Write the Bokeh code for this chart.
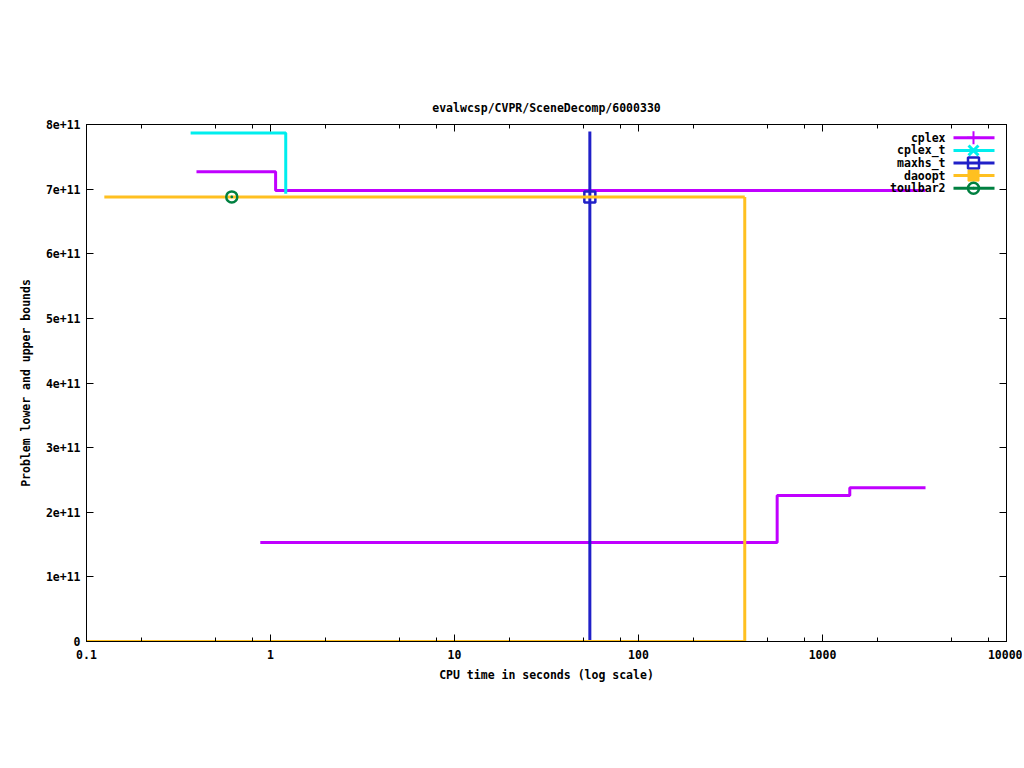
from bokeh.plotting import figure
from bokeh.models import LogAxis, LinearAxis, FixedTicker, Label, Range1d
from bokeh.embed import file_html
from bokeh.resources import INLINE

# ---------------- data ----------------
title_text = "evalwcsp/CVPR/SceneDecomp/6000330"
x_label = "CPU time in seconds (log scale)"
y_label = "Problem lower and upper bounds"

x_ticks = [0.1, 1, 10, 100, 1000, 10000]
x_tick_labels = ["0.1", "1", "10", "100", "1000", "10000"]
x_minor_mult = [2, 5, 8]
y_ticks = [0, 1e11, 2e11, 3e11, 4e11, 5e11, 6e11, 7e11, 8e11]
y_tick_labels = ["0", "1e+11", "2e+11", "3e+11", "4e+11", "5e+11", "6e+11", "7e+11", "8e+11"]

series_names = ["cplex", "cplex_t", "maxhs_t", "daoopt", "toulbar2"]
series_colors = ["#c000ff", "#00eeee", "#2020c8", "#ffc020", "#008040"]

cplex_upper_t = [0.396, 1.066, 3630]
cplex_upper_v = [7.27e11, 6.977e11, 6.977e11]
cplex_lower_t = [0.88, 567, 1407, 3630]
cplex_lower_v = [1.53e11, 2.26e11, 2.38e11, 2.38e11]

cplex_t_upper_t = [0.368, 1.21]
cplex_t_upper_v = [7.87e11, 6.93e11]

maxhs_t_upper_t = [54.4, 54.4]
maxhs_t_upper_v = [7.89e11, 6.88e11]
maxhs_t_lower_t = [54.4, 54.4]
maxhs_t_lower_v = [0, 6.88e11]
maxhs_t_point_t = [54.4]
maxhs_t_point_v = [6.88e11]

daoopt_upper_t = [0.125, 378]
daoopt_upper_v = [6.88e11, 6.88e11]
daoopt_lower_t = [0.1, 378]
daoopt_lower_v = [0, 6.88e11]

toulbar2_point_t = [0.616]
toulbar2_point_v = [6.88e11]

# ---------------- layout ----------------
X_MIN, X_MAX = 0.1, 10000
Y_MIN, Y_MAX = 0, 8e11
FRAME_LEFT, FRAME_TOP, FRAME_W, FRAME_H = 86, 124, 920, 517   # in page pixels
FONT = "DejaVu Sans Mono"
FS = "11.5px"
LW = 3


def px_to_x(px):
    return X_MIN * 10 ** ((px - FRAME_LEFT) / FRAME_W * 5)


def py_to_y(py):
    return (FRAME_TOP + FRAME_H - py) / FRAME_H * (Y_MAX - Y_MIN)


p = figure(x_axis_type="log", x_range=Range1d(X_MIN, X_MAX), y_range=Range1d(Y_MIN, Y_MAX),
           frame_width=FRAME_W, frame_height=FRAME_H,
           min_border_left=FRAME_LEFT, min_border_top=FRAME_TOP,
           min_border_right=16, min_border_bottom=95,
           output_backend="svg", toolbar_location=None, title=title_text)

p.title.text_font = FONT
p.title.text_font_size = FS
p.title.text_font_style = "bold"
p.title.align = "center"
p.title.text_color = "black"
p.title.standoff = 20

p.xgrid.visible = False
p.ygrid.visible = False
p.outline_line_color = "black"
p.outline_line_alpha = 1
p.background_fill_color = "white"
p.border_fill_color = "white"

x_minor = [d * m for d in x_ticks[:-1] for m in x_minor_mult]


def style_axis(ax, labels=True):
    ax.major_tick_in = 7
    ax.major_tick_out = 0
    ax.minor_tick_in = 4
    ax.minor_tick_out = 0
    ax.axis_line_color = "black"
    ax.major_tick_line_color = "black"
    ax.minor_tick_line_color = "black"
    ax.major_label_text_font = FONT
    ax.major_label_text_font_size = FS
    ax.major_label_text_font_style = "bold"
    ax.major_label_text_color = "black"
    if not labels:
        ax.major_label_text_alpha = 0
        ax.major_label_text_font_size = "2px"
    ax.axis_label_text_font = FONT
    ax.axis_label_text_font_size = FS
    ax.axis_label_text_font_style = "bold"
    ax.axis_label_text_color = "black"


xa = p.xaxis[0]
xa.ticker = FixedTicker(ticks=x_ticks, minor_ticks=x_minor)
xa.major_label_overrides = {t: l for t, l in zip(x_ticks, x_tick_labels)}
xa.axis_label = x_label
style_axis(xa)
xa.major_label_standoff = 8
xa.axis_label_standoff = 6

ya = p.yaxis[0]
ya.ticker = FixedTicker(ticks=y_ticks, minor_ticks=[])
ya.major_label_overrides = {t: l for t, l in zip(y_ticks, y_tick_labels)}
ya.axis_label = y_label
style_axis(ya)
ya.major_label_standoff = 6
ya.axis_label_standoff = 10

top = LogAxis(ticker=FixedTicker(ticks=x_ticks, minor_ticks=x_minor))
style_axis(top, labels=False)
top.major_label_standoff = 0
p.add_layout(top, "above")

right = LinearAxis(ticker=FixedTicker(ticks=y_ticks, minor_ticks=[]))
style_axis(right, labels=False)
right.major_label_standoff = 0
p.add_layout(right, "right")

# ---------------- series ----------------
c = dict(zip(series_names, series_colors))

p.step(cplex_upper_t, cplex_upper_v, mode="after", line_color=c["cplex"], line_width=LW)
p.step(cplex_lower_t, cplex_lower_v, mode="after", line_color=c["cplex"], line_width=LW)

p.step(cplex_t_upper_t, cplex_t_upper_v, mode="after", line_color=c["cplex_t"], line_width=LW)

p.line(maxhs_t_upper_t, maxhs_t_upper_v, line_color=c["maxhs_t"], line_width=LW)
p.line(maxhs_t_lower_t, maxhs_t_lower_v, line_color=c["maxhs_t"], line_width=LW)
p.scatter(maxhs_t_point_t, maxhs_t_point_v, marker="square", size=11, fill_color=None,
          line_color=c["maxhs_t"], line_width=2.5)

p.step(daoopt_upper_t, daoopt_upper_v, mode="after", line_color=c["daoopt"], line_width=LW)
p.step(daoopt_lower_t, daoopt_lower_v, mode="after", line_color=c["daoopt"], line_width=LW)

p.scatter(toulbar2_point_t, toulbar2_point_v, marker="circle_dot", size=11, fill_color=None,
          line_color=c["toulbar2"], line_width=2.5)

# ---------------- legend (gnuplot style: text left, sample right) ----------------
markers = [
    dict(marker="cross", size=13, line_width=2, fill_color=None),
    dict(marker="x", size=14, line_width=3, fill_color=None),
    dict(marker="square", size=11, line_width=2.5, fill_color=None),
    dict(marker="square", size=11, line_width=1, fill_color="same"),
    dict(marker="circle_dot", size=11, line_width=2.5, fill_color=None),
]
ROW0, ROW_STEP = 137.3, 12.6
for i, (name, col) in enumerate(zip(series_names, series_colors)):
    yy = py_to_y(ROW0 + i * ROW_STEP)
    p.add_layout(Label(x=px_to_x(945), y=yy, text=name, text_align="right",
                       text_baseline="middle", text_font=FONT, text_font_size=FS,
                       text_font_style="bold", text_color="black"))
    p.line([px_to_x(953), px_to_x(994)], [yy, yy], line_color=col, line_width=LW)
    m = dict(markers[i])
    if m["fill_color"] == "same":
        m["fill_color"] = col
    p.scatter([px_to_x(973)], [yy], line_color=col, **m)

open("out.html", "w").write(file_html(p, INLINE))
